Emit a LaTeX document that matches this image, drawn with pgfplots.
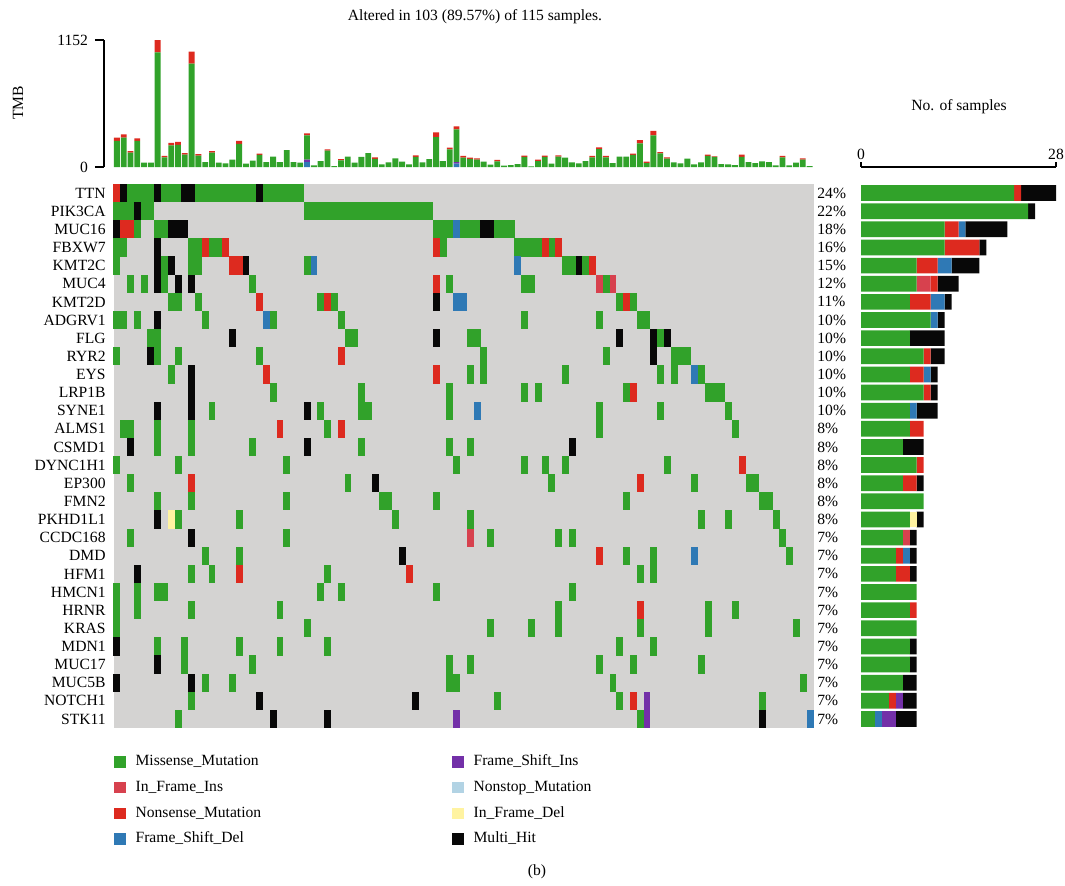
\documentclass[border=0pt]{standalone}
\usepackage{pgfplots}
\pgfplotsset{compat=1.18}
\usepackage{pgfplotstable}
\usepackage{fontspec}
\setmainfont{Liberation Serif}
\definecolor{cMis}{HTML}{31A22A}
\definecolor{cIFI}{HTML}{D7414E}
\definecolor{cNon}{HTML}{DD2A1F}
\definecolor{cFSD}{HTML}{2F79B5}
\definecolor{cFSI}{HTML}{7330A8}
\definecolor{cNst}{HTML}{B2D3E4}
\definecolor{cIFD}{HTML}{FFF3A1}
\definecolor{cMH}{HTML}{080808}
\definecolor{cBG}{HTML}{D4D3D2}
\newcommand\fs{\fontsize{7.8}{9.4}\selectfont}
\pgfdeclareplotmark{cell}{\pgfpathrectangle{\pgfpoint{-1.72pt}{-4.56pt}}{\pgfpoint{3.44pt}{9.12pt}}\pgfusepath{fill}}

\pgfplotstableread{
x fsd fsi g ns
0 0 0 236 30
1 0 0 266 30
2 0 0 130 15
3 0 0 236 24
4 0 0 39 0
5 0 0 39 0
6 0 0 1040 112
7 0 0 88 12
8 0 0 197 21
9 0 0 200 27
10 0 0 112 15
11 0 0 937 109
12 0 0 103 15
13 0 0 45 0
14 0 0 130 15
15 0 0 39 0
16 0 0 33 0
17 0 0 66 0
18 0 0 209 27
19 0 0 30 0
20 0 0 57 0
21 0 0 109 12
22 0 0 45 0
23 0 0 94 0
24 0 0 45 0
25 0 0 154 0
26 0 0 45 0
27 0 0 39 0
28 45 21 221 18
29 0 0 15 0
30 0 0 54 0
31 0 0 148 12
32 0 0 9 0
33 0 0 60 12
34 0 0 94 0
35 0 0 39 0
36 0 0 91 0
37 0 0 127 0
38 0 0 73 15
39 0 0 24 0
40 0 0 42 0
41 0 0 79 0
42 0 0 48 0
43 0 0 24 0
44 0 0 91 15
45 0 0 42 0
46 0 0 72 0
47 0 0 272 42
48 0 0 54 0
49 0 0 160 15
50 30 15 297 27
51 0 0 85 15
52 0 0 73 12
53 0 0 67 12
54 0 0 48 0
55 0 0 21 0
56 0 0 52 12
57 0 0 12 0
58 0 0 18 0
59 0 0 27 0
60 0 0 91 12
61 0 0 6 0
62 0 0 54 12
63 0 0 91 12
64 0 0 30 0
65 0 0 94 12
66 0 0 85 0
67 0 0 42 0
68 0 0 33 0
69 0 0 54 0
70 0 0 88 12
71 0 0 163 15
72 0 0 88 12
73 0 0 36 0
74 0 0 94 0
75 0 0 94 0
76 0 0 109 12
77 0 0 215 30
78 0 0 36 12
79 0 0 288 39
80 0 0 124 12
81 0 0 76 12
82 0 0 42 0
83 0 0 33 0
84 0 0 76 0
85 0 0 24 0
86 0 0 42 0
87 0 0 100 12
88 0 0 91 6
89 0 0 27 0
90 0 0 24 0
91 0 0 18 0
92 0 0 91 21
93 0 0 45 0
94 0 0 36 0
95 0 0 51 0
96 0 0 45 0
97 0 0 15 0
98 0 0 88 12
99 0 0 15 0
100 0 0 39 0
101 0 0 67 12
102 0 0 9 0
}\tmb

\pgfplotstableread{
row g ifi ns fsd fsi ifd mh
0 22 0 1 0 0 0 5
1 24 0 0 0 0 0 1
2 12 0 2 1 0 0 6
3 12 0 5 0 0 0 1
4 8 0 3 2 0 0 4
5 8 2 1 0 0 0 3
6 7 0 3 2 0 0 1
7 10 0 0 1 0 0 1
8 7 0 0 0 0 0 5
9 9 0 1 0 0 0 2
10 7 0 2 1 0 0 1
11 9 0 1 0 0 0 1
12 7 0 0 1 0 0 3
13 7 0 2 0 0 0 0
14 6 0 0 0 0 0 3
15 8 0 1 0 0 0 0
16 6 0 2 0 0 0 1
17 9 0 0 0 0 0 0
18 7 0 0 0 0 1 1
19 6 1 0 0 0 0 1
20 5 0 1 1 0 0 1
21 5 0 2 0 0 0 1
22 8 0 0 0 0 0 0
23 7 0 1 0 0 0 0
24 8 0 0 0 0 0 0
25 7 0 0 0 0 0 1
26 7 0 0 0 0 0 1
27 6 0 0 0 0 0 2
28 4 0 1 0 1 0 2
29 2 0 0 1 2 0 3
}\nsamp

\begin{document}
\begin{tikzpicture}
\path[use as bounding box] (0pt,0pt) rectangle (532.5pt,-442.5pt);

% ---------- TMB bars ----------
\begin{axis}[at={(52pt,-83.5pt)}, anchor=south west, scale only axis,
 width=354.5pt, height=63.5pt,
 xmin=-1.9, xmax=102.5, ymin=0, ymax=1152,
 ybar stacked, bar width=0.86,
 axis x line=none, axis y line*=left,
 ytick={0,1152}, yticklabels={0,1152}, scaled y ticks=false,
 tick align=outside, major tick length=4.5pt,
 y axis line style={line width=0.6pt},
 every tick/.style={line width=0.6pt, black},
 yticklabel style={font=\fs}, clip=false]
\addplot[fill=cFSD, draw=none] table[x=x,y=fsd]{\tmb};
\addplot[fill=cFSI, draw=none] table[x=x,y=fsi]{\tmb};
\addplot[fill=cMis, draw=none] table[x=x,y=g]{\tmb};
\addplot[fill=cNon, draw=none] table[x=x,y=ns]{\tmb};
\end{axis}

% ---------- Oncoplot grid ----------
\begin{axis}[at={(56.75pt,-92pt)}, anchor=north west, scale only axis,
 width=350pt, height=272pt,
 xmin=-0.5, xmax=102.5, ymin=-0.5, ymax=29.5, y dir=reverse,
 axis background/.style={fill=cBG}, axis line style={draw=none},
 major tick length=0pt, xtick=\empty, ytick={0,...,29},
 yticklabels={TTN,PIK3CA,MUC16,FBXW7,KMT2C,MUC4,KMT2D,ADGRV1,FLG,RYR2,EYS,LRP1B,SYNE1,ALMS1,CSMD1,DYNC1H1,EP300,FMN2,PKHD1L1,CCDC168,DMD,HFM1,HMCN1,HRNR,KRAS,MDN1,MUC17,MUC5B,NOTCH1,STK11},
 yticklabel style={font=\fs, inner sep=0pt, xshift=-3.75pt},
 clip=false,
 legend style={at={(0.0007,-0.0478)}, anchor=north west, draw=none, fill=none,
   inner sep=0pt, row sep=5.35pt, column sep=5pt,
   nodes={inner sep=0pt, text height=5.6pt, text depth=1.9pt, font=\fs}},
 legend cell align=left]
\addplot[only marks, mark=cell, color=cMis, forget plot] coordinates {
(2,0)(3,0)(4,0)(5,0)(7,0)(8,0)(9,0)(12,0)(13,0)(14,0)(15,0)(16,0)(17,0)(18,0)(19,0)(20,0)(22,0)(23,0)(24,0)(25,0)(26,0)(27,0)
(0,1)(1,1)(2,1)(4,1)(5,1)(28,1)(29,1)(30,1)(31,1)(32,1)(33,1)(34,1)(35,1)(36,1)(37,1)(38,1)(39,1)(40,1)(41,1)(42,1)(43,1)(44,1)(45,1)(46,1)
(3,2)(6,2)(7,2)(47,2)(48,2)(49,2)(51,2)(52,2)(53,2)(56,2)(57,2)(58,2)
(0,3)(1,3)(11,3)(12,3)(14,3)(15,3)(48,3)(59,3)(60,3)(61,3)(62,3)(64,3)
(0,4)(7,4)(11,4)(12,4)(28,4)(66,4)(67,4)(69,4)
(2,5)(4,5)(7,5)(20,5)(49,5)(60,5)(61,5)(72,5)
(8,6)(9,6)(12,6)(30,6)(32,6)(74,6)(76,6)
(0,7)(1,7)(3,7)(13,7)(23,7)(33,7)(60,7)(71,7)(77,7)(78,7)
(5,8)(6,8)(34,8)(35,8)(52,8)(53,8)(80,8)
(0,9)(6,9)(9,9)(21,9)(54,9)(72,9)(82,9)(83,9)(84,9)
(8,10)(52,10)(54,10)(66,10)(80,10)(82,10)(86,10)
(23,11)(36,11)(49,11)(60,11)(62,11)(75,11)(87,11)(88,11)(89,11)
(14,12)(30,12)(36,12)(37,12)(49,12)(71,12)(80,12)(90,12)
(1,13)(2,13)(6,13)(11,13)(31,13)(71,13)(91,13)
(6,14)(11,14)(20,14)(36,14)(49,14)(52,14)
(0,15)(9,15)(25,15)(50,15)(60,15)(63,15)(66,15)(81,15)
(2,16)(34,16)(64,16)(85,16)(93,16)(94,16)
(6,17)(11,17)(25,17)(39,17)(40,17)(47,17)(75,17)(95,17)(96,17)
(9,18)(18,18)(41,18)(52,18)(86,18)(90,18)(97,18)
(2,19)(25,19)(55,19)(65,19)(67,19)(98,19)
(13,20)(18,20)(75,20)(79,20)(99,20)
(11,21)(14,21)(31,21)(77,21)(79,21)
(0,22)(3,22)(6,22)(7,22)(30,22)(33,22)(47,22)(67,22)
(0,23)(3,23)(11,23)(24,23)(65,23)(87,23)(91,23)
(0,24)(28,24)(55,24)(61,24)(65,24)(77,24)(87,24)(100,24)
(6,25)(10,25)(18,25)(24,25)(31,25)(74,25)(79,25)
(10,26)(20,26)(49,26)(52,26)(71,26)(76,26)(86,26)
(13,27)(17,27)(49,27)(50,27)(73,27)(101,27)
(11,28)(56,28)(74,28)(95,28)
(9,29)(77,29)};
\addplot[only marks, mark=cell, color=cNon, forget plot] coordinates {
(0,0)(1,2)(2,2)(13,3)(16,3)(47,3)(63,3)(65,3)(17,4)(18,4)(70,4)(47,5)
(21,6)(31,6)(75,6)(33,9)(22,10)(47,10)(76,11)(24,13)(33,13)(92,15)
(11,16)(77,16)(71,20)(18,21)(43,21)(77,23)(76,28)};
\addplot[only marks, mark=cell, color=cIFI, forget plot] coordinates {(71,5)(73,5)(52,19)};
\addplot[only marks, mark=cell, color=cFSD, forget plot] coordinates {
(50,2)(29,4)(59,4)(50,6)(51,6)(22,7)(85,10)(53,12)(85,20)(102,29)};
\addplot[only marks, mark=cell, color=cFSI, forget plot] coordinates {(78,28)(50,29)(78,29)};
\addplot[only marks, mark=cell, color=cIFD, forget plot] coordinates {(8,18)};
\addplot[only marks, mark=cell, color=cMH, forget plot] coordinates {
(1,0)(6,0)(10,0)(11,0)(21,0)(3,1)(0,2)(8,2)(9,2)(10,2)(54,2)(55,2)(6,3)
(6,4)(8,4)(19,4)(68,4)(6,5)(9,5)(11,5)(47,6)(6,7)
(17,8)(47,8)(74,8)(79,8)(81,8)(5,9)(79,9)(11,10)(11,11)(6,12)(11,12)(28,12)
(2,14)(28,14)(67,14)(38,16)(6,18)(11,19)(42,20)(3,21)(0,25)(6,26)
(0,27)(11,27)(21,28)(44,28)(23,29)(31,29)(95,29)};
\addlegendimage{legend image code/.code={\fill[cMis] (0pt,-2.6pt) rectangle (5.2pt,2.6pt);}}
\addlegendentry{Missense\_Mutation}
\addlegendimage{legend image code/.code={\fill[cIFI] (0pt,-2.6pt) rectangle (5.2pt,2.6pt);}}
\addlegendentry{In\_Frame\_Ins}
\addlegendimage{legend image code/.code={\fill[cNon] (0pt,-2.6pt) rectangle (5.2pt,2.6pt);}}
\addlegendentry{Nonsense\_Mutation}
\addlegendimage{legend image code/.code={\fill[cFSD] (0pt,-2.6pt) rectangle (5.2pt,2.6pt);}}
\addlegendentry{Frame\_Shift\_Del}
\end{axis}

% ---------- percentages + second legend column ----------
\begin{axis}[at={(56.75pt,-92pt)}, anchor=north west, scale only axis,
 width=350pt, height=272pt,
 xmin=-0.5, xmax=102.5, ymin=-0.5, ymax=29.5, y dir=reverse,
 axis line style={draw=none}, major tick length=0pt, xtick=\empty,
 ytick={0,...,29}, yticklabel pos=right,
 yticklabels={24\%,22\%,18\%,16\%,15\%,12\%,11\%,10\%,10\%,10\%,10\%,10\%,10\%,8\%,8\%,8\%,8\%,8\%,8\%,7\%,7\%,7\%,7\%,7\%,7\%,7\%,7\%,7\%,7\%,7\%},
 yticklabel style={font=\fs, inner sep=0pt, xshift=1.75pt, anchor=west},
 clip=false,
 legend style={at={(0.4836,-0.0478)}, anchor=north west, draw=none, fill=none,
   inner sep=0pt, row sep=5.35pt, column sep=5pt,
   nodes={inner sep=0pt, text height=5.6pt, text depth=1.9pt, font=\fs}},
 legend cell align=left]
\addlegendimage{legend image code/.code={\fill[cFSI] (0pt,-2.6pt) rectangle (5.2pt,2.6pt);}}
\addlegendentry{Frame\_Shift\_Ins}
\addlegendimage{legend image code/.code={\fill[cNst] (0pt,-2.6pt) rectangle (5.2pt,2.6pt);}}
\addlegendentry{Nonstop\_Mutation}
\addlegendimage{legend image code/.code={\fill[cIFD] (0pt,-2.6pt) rectangle (5.2pt,2.6pt);}}
\addlegendentry{In\_Frame\_Del}
\addlegendimage{legend image code/.code={\fill[cMH] (0pt,-2.6pt) rectangle (5.2pt,2.6pt);}}
\addlegendentry{Multi\_Hit}
\end{axis}

% ---------- No. of samples bars ----------
\begin{axis}[at={(430.5pt,-83.5pt)}, anchor=north west, scale only axis,
 width=97.5pt, height=280.5pt,
 xmin=0, xmax=28, ymin=-0.5, ymax=30.4375,
 xbar stacked, bar width=0.866,
 axis y line=none, axis x line*=top,
 xtick={0,28}, xticklabels={0,28},
 tick align=outside, major tick length=2.5pt,
 x axis line style={line width=0.6pt},
 every tick/.style={line width=0.6pt, black},
 xticklabel style={font=\fs, inner sep=1pt}, clip=false]
\addplot[fill=cMis, draw=none] table[x=g, y expr=29-\thisrow{row}]{\nsamp};
\addplot[fill=cIFI, draw=none] table[x=ifi, y expr=29-\thisrow{row}]{\nsamp};
\addplot[fill=cNon, draw=none] table[x=ns, y expr=29-\thisrow{row}]{\nsamp};
\addplot[fill=cFSD, draw=none] table[x=fsd, y expr=29-\thisrow{row}]{\nsamp};
\addplot[fill=cFSI, draw=none] table[x=fsi, y expr=29-\thisrow{row}]{\nsamp};
\addplot[fill=cIFD, draw=none] table[x=ifd, y expr=29-\thisrow{row}]{\nsamp};
\addplot[fill=cMH, draw=none] table[x=mh, y expr=29-\thisrow{row}]{\nsamp};
\end{axis}

\node[font=\fs] at (237.5pt,-8.5pt) {Altered in 103 (89.57\%) of 115 samples.};
\node[font=\fs, rotate=90] at (9pt,-51.5pt) {TMB};
\node[font=\fs] at (479.5pt,-53.5pt) {No. of samples};
\node[font=\fs] at (268.5pt,-436pt) {(b)};
\end{tikzpicture}
\end{document}
